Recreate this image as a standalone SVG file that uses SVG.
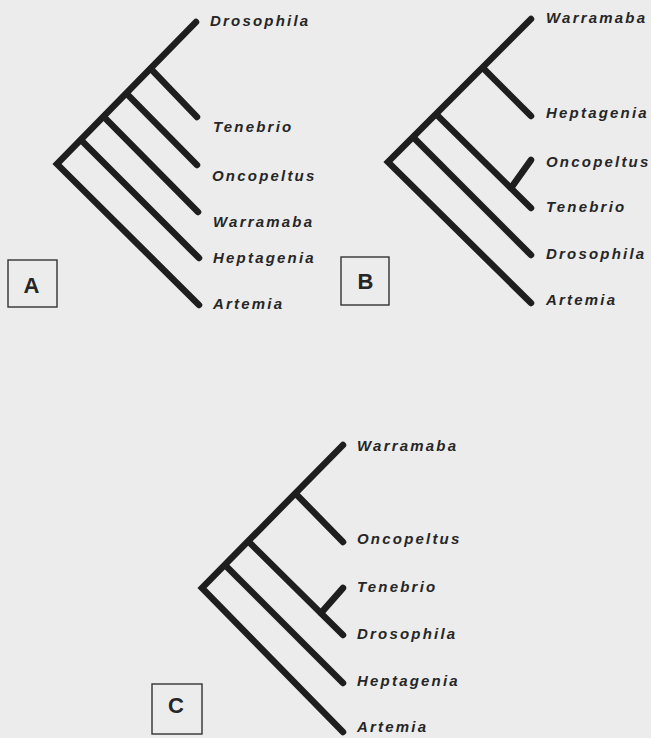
<svg xmlns="http://www.w3.org/2000/svg" width="651" height="738" viewBox="0 0 651 738">
  <style>
    .br { fill: none; stroke: #1e1e1e; stroke-width: 6.5; stroke-linecap: round; stroke-linejoin: miter; }
    .lbl { font-family: "Liberation Sans", Arial, Helvetica, sans-serif; font-weight: bold; font-style: italic; font-size: 15px; letter-spacing: 2.2px; fill: #262626; }
    .box { fill: none; stroke: #333; stroke-width: 1.4; }
    .panel { font-family: "Liberation Sans", Arial, Helvetica, sans-serif; font-weight: bold; font-size: 22px; fill: #262626; text-anchor: middle; }
  </style>
  <rect x="0" y="0" width="651" height="738" fill="#ececec"/>

  <!-- Tree A -->
  <g id="connectors-A">
    <polyline class="br" points="196,22 57,164 199,305"/>
    <line class="br" x1="151" y1="69" x2="197" y2="117"/>
    <line class="br" x1="127" y1="94" x2="197" y2="165"/>
    <line class="br" x1="104" y1="117" x2="198" y2="212"/>
    <line class="br" x1="81" y1="140" x2="199" y2="258"/>
  </g>
  <g id="A-Drosophila"><text class="lbl" x="210" y="26">Drosophila</text></g>
  <g id="A-Tenebrio"><text class="lbl" x="213" y="132">Tenebrio</text></g>
  <g id="A-Oncopeltus"><text class="lbl" x="212" y="181">Oncopeltus</text></g>
  <g id="A-Warramaba"><text class="lbl" x="213" y="227">Warramaba</text></g>
  <g id="A-Heptagenia"><text class="lbl" x="213" y="263">Heptagenia</text></g>
  <g id="A-Artemia"><text class="lbl" x="213" y="309">Artemia</text></g>
  <g id="panel-A">
    <rect class="box" x="8" y="260" width="49" height="47"/>
    <text class="panel" x="31.5" y="293">A</text>
  </g>

  <!-- Tree B -->
  <g id="connectors-B">
    <polyline class="br" points="531,19 388,162 531,303"/>
    <line class="br" x1="483" y1="68" x2="531" y2="116"/>
    <line class="br" x1="438" y1="116" x2="531" y2="208"/>
    <line class="br" x1="414" y1="138" x2="531" y2="255"/>
    <line class="br" x1="511" y1="188" x2="531" y2="160"/>
  </g>
  <g id="B-Warramaba"><text class="lbl" x="546" y="23">Warramaba</text></g>
  <g id="B-Heptagenia"><text class="lbl" x="546" y="118">Heptagenia</text></g>
  <g id="B-Oncopeltus"><text class="lbl" x="546" y="167">Oncopeltus</text></g>
  <g id="B-Tenebrio"><text class="lbl" x="546" y="212">Tenebrio</text></g>
  <g id="B-Drosophila"><text class="lbl" x="546" y="259">Drosophila</text></g>
  <g id="B-Artemia"><text class="lbl" x="546" y="305">Artemia</text></g>
  <g id="panel-B">
    <rect class="box" x="341" y="257" width="48" height="48"/>
    <text class="panel" x="365.5" y="289">B</text>
  </g>

  <!-- Tree C -->
  <g id="connectors-C">
    <polyline class="br" points="343,445 202,588 343,732"/>
    <line class="br" x1="296" y1="494" x2="343" y2="542"/>
    <line class="br" x1="250" y1="543" x2="343" y2="635"/>
    <line class="br" x1="226" y1="566" x2="343" y2="683"/>
    <line class="br" x1="321" y1="613" x2="343" y2="588"/>
  </g>
  <g id="C-Warramaba"><text class="lbl" x="357" y="451">Warramaba</text></g>
  <g id="C-Oncopeltus"><text class="lbl" x="357" y="544">Oncopeltus</text></g>
  <g id="C-Tenebrio"><text class="lbl" x="357" y="592">Tenebrio</text></g>
  <g id="C-Drosophila"><text class="lbl" x="357" y="639">Drosophila</text></g>
  <g id="C-Heptagenia"><text class="lbl" x="357" y="686">Heptagenia</text></g>
  <g id="C-Artemia"><text class="lbl" x="357" y="732">Artemia</text></g>
  <g id="panel-C">
    <rect class="box" x="152" y="684" width="50" height="50"/>
    <text class="panel" x="176" y="713">C</text>
  </g>
</svg>
